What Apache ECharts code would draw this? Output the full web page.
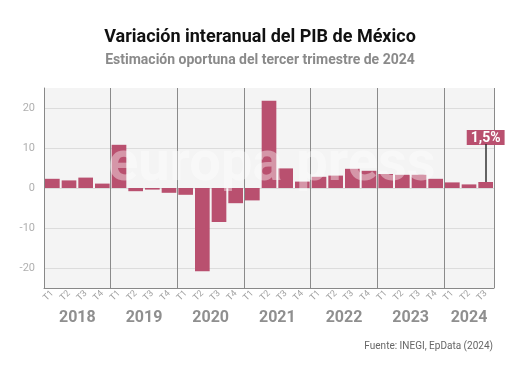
<!DOCTYPE html>
<html>
<head>
<meta charset="utf-8">
<script src="https://cdn.jsdelivr.net/npm/echarts@6/dist/echarts.min.js"></script>
<style>html,body{margin:0;padding:0;background:#fff}#c{width:520px;height:367px}</style>
</head>
<body>
<div id="c"></div>
<script>
const quarters = ['T1','T2','T3','T4','T1','T2','T3','T4','T1','T2','T3','T4','T1','T2','T3','T4','T1','T2','T3','T4','T1','T2','T3','T4','T1','T2','T3'];
const values = [2.3, 1.9, 2.6, 1.1, 10.8, -0.8, -0.4, -1.2, -1.7, -20.8, -8.5, -3.8, -3.1, 21.8, 4.9, 1.6, 2.8, 3.1, 4.8, 4.3, 3.5, 3.3, 3.3, 2.3, 1.4, 0.9, 1.5];
const years = ['2018','2019','2020','2021','2022','2023','2024'];
const yearCenters = [2, 6, 10, 14, 18, 22, 25.5];
const lastLabel = '1,5%';
const yTicks = [-20, -10, 0, 10, 20];

const barColor = '#b9506f';
const lastIdx = values.length - 1;
const barData = values.map((v, i) => i === lastIdx ? {
  value: v,
  label: {
    show: true, position: 'top', distance: 37,
    formatter: lastLabel, color: '#fff', fontWeight: 'bold', fontSize: 14,
    fontFamily: 'Roboto', backgroundColor: barColor, padding: [1, 4, 0, 4]
  }
} : v);

const chart = echarts.init(document.getElementById('c'));
chart.setOption({
  animation: false,
  backgroundColor: '#fff',
  title: {
    text: 'Variación interanual del PIB de México',
    subtext: 'Estimación oportuna del tercer trimestre de 2024',
    left: 'center', top: 23, itemGap: 7,
    textStyle: { fontFamily: 'Roboto', fontWeight: 'bold', fontSize: 18, color: '#111' },
    subtextStyle: { fontFamily: 'Roboto', fontWeight: 'bold', fontSize: 14, color: '#8a8a8a' }
  },
  graphic: [
    { type: 'text', left: 108, top: 138, z: 100, silent: true,
      style: { text: 'europa press', fontFamily: 'Roboto', fontWeight: 'bold', fontSize: 56,
        fill: 'rgba(255,255,255,0.4)' } },
    { type: 'text', right: 27, top: 341,
      style: { text: 'Fuente: INEGI, EpData (2024)', fontFamily: 'Roboto', fontSize: 10, fill: '#666' } }
  ],
  grid: { left: 44, right: 26, top: 88, bottom: 79, show: true, backgroundColor: '#f4f4f4', borderWidth: 0 },
  xAxis: [
    {
      type: 'category', data: quarters, boundaryGap: true,
      axisLine: { show: true, onZero: false, lineStyle: { color: '#888' } },
      axisTick: { show: false },
      splitLine: { show: true, interval: (i) => i % 4 === 0, lineStyle: { color: '#8a8a8a', width: 1 } },
      axisLabel: { rotate: 45, fontSize: 9, color: '#a0a0a0', fontFamily: 'Roboto', margin: 4, interval: 0 }
    },
    {
      type: 'value', position: 'bottom', min: 0, max: 27, interval: 0.5,
      axisLine: { show: false }, axisTick: { show: false }, splitLine: { show: false },
      axisLabel: {
        margin: 22, fontSize: 16, fontWeight: 'bold', color: '#8f8f8f', fontFamily: 'Roboto',
        showMinLabel: true, showMaxLabel: true, hideOverlap: false,
        formatter: (v) => { const k = yearCenters.indexOf(v); return k >= 0 ? years[k] : ''; }
      }
    }
  ],
  yAxis: {
    type: 'value', min: -25, max: 25, interval: 5,
    axisLine: { show: true, lineStyle: { color: '#888' } },
    axisTick: { show: false },
    splitLine: { show: true, lineStyle: { color: ['rgba(0,0,0,0)', '#dcdcdc'] } },
    axisLabel: {
      fontSize: 11, color: '#b0b0b0', fontFamily: 'Roboto', margin: 9,
      formatter: (v) => yTicks.indexOf(v) >= 0 ? String(v) : ''
    }
  },
  series: [{
    type: 'bar', xAxisIndex: 0, data: barData, barCategoryGap: '12%',
    itemStyle: { color: barColor },
    markLine: {
      silent: true, symbol: 'none', label: { show: false },
      lineStyle: { color: '#333', width: 1.5, type: 'solid' },
      data: [[{ coord: [lastIdx, values[lastIdx]] }, { coord: [lastIdx, 11] }]]
    }
  }]
});
</script>
</body>
</html>
